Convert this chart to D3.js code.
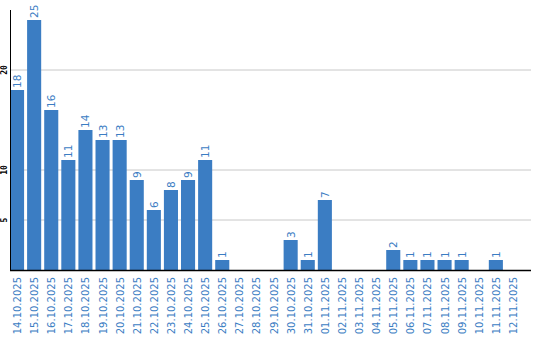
<!DOCTYPE html>
<html>
<head>
<meta charset="utf-8">
<script src="https://cdn.jsdelivr.net/npm/d3@7"></script>
<style>
  body { margin: 0; background: #fff; }
  svg { display: block; }
</style>
</head>
<body>
<svg class="main-canvas" width="540" height="340"></svg>
<script>
"use strict";

const dates = ["14.10.2025", "15.10.2025", "16.10.2025", "17.10.2025", "18.10.2025",
               "19.10.2025", "20.10.2025", "21.10.2025", "22.10.2025", "23.10.2025",
               "24.10.2025", "25.10.2025", "26.10.2025", "27.10.2025", "28.10.2025",
               "29.10.2025", "30.10.2025", "31.10.2025", "01.11.2025", "02.11.2025",
               "03.11.2025", "04.11.2025", "05.11.2025", "06.11.2025", "07.11.2025",
               "08.11.2025", "09.11.2025", "10.11.2025", "11.11.2025", "12.11.2025"];
const counts = [18, 25, 16, 11, 14, 13, 13, 9, 6, 8,
                9, 11, 1, 0, 0, 0, 3, 1, 7, 0,
                0, 0, 2, 1, 1, 1, 1, 0, 1, 0];
const yTicks = [5, 10, 20];

const blue = '#3b7dc3';
let svg = d3.select('.main-canvas');

const x = d3.scaleBand()
            .domain(dates)
            .range([10, 520])
            .paddingInner(3 / 17)
            .paddingOuter(0)
            .align(0);
const y = d3.scaleLinear()
            .domain([0, 26])
            .range([270, 10]);

// Grid lines
svg.append('g')
   .selectAll('line')
   .data(yTicks)
   .enter()
   .append('line')
   .attr('x1', 10)
   .attr('x2', 531)
   .attr('y1', d => y(d))
   .attr('y2', d => y(d))
   .attr('stroke', '#c8c8c8')
   .attr('stroke-width', 1);

// Y tick labels (rotated)
svg.append('g')
   .selectAll('text')
   .data(yTicks)
   .enter()
   .append('text')
   .text(d => d)
   .attr('transform', d => `translate(7, ${y(d)}) rotate(-90)`)
   .attr('text-anchor', 'middle')
   .attr('font-family', 'DejaVu Sans Mono, monospace')
   .attr('font-weight', 'bold')
   .attr('font-size', 8)
   .attr('fill', '#000');

// Bars
svg.append('g')
   .selectAll('rect')
   .data(counts)
   .enter()
   .append('rect')
   .attr('x', (d, i) => x(dates[i]))
   .attr('y', d => y(d))
   .attr('width', x.bandwidth())
   .attr('height', d => y(0) - y(d))
   .attr('fill', blue);

// Value labels
svg.append('g')
   .selectAll('text')
   .data(counts.map((v, i) => ({ v, date: dates[i] })).filter(d => d.v > 0))
   .enter()
   .append('text')
   .text(d => d.v)
   .attr('transform', d => `translate(${x(d.date) + x.bandwidth() / 2 + 4}, ${y(d.v) - 2}) rotate(-90)`)
   .attr('text-anchor', 'start')
   .attr('font-family', 'DejaVu Sans, sans-serif')
   .attr('font-size', 10.5)
   .attr('fill', blue);

// Axis lines
svg.append('line')
   .attr('x1', 10.5).attr('x2', 10.5)
   .attr('y1', 10).attr('y2', 270)
   .attr('stroke', '#000');
svg.append('line')
   .attr('x1', 10).attr('x2', 531)
   .attr('y1', 270.5).attr('y2', 270.5)
   .attr('stroke', '#000')
   .attr('stroke-width', 1.5);

// X labels
svg.append('g')
   .selectAll('text')
   .data(dates)
   .enter()
   .append('text')
   .text(d => d)
   .attr('transform', d => `translate(${x(d) + x.bandwidth() / 2 + 4}, 277) rotate(-90)`)
   .attr('text-anchor', 'end')
   .attr('font-family', 'DejaVu Sans, sans-serif')
   .attr('font-size', 10)
   .attr('fill', blue);
</script>
</body>
</html>
